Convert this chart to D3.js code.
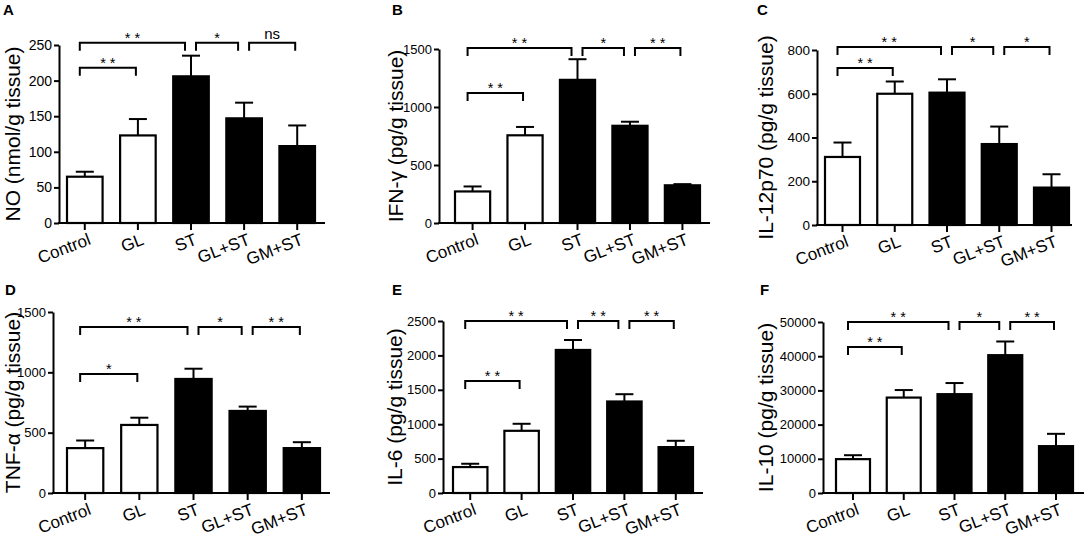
<!DOCTYPE html>
<html>
<head>
<meta charset="utf-8">
<script src="https://cdn.jsdelivr.net/npm/d3@7"></script>
<style>
  body { margin: 0; background: #fff; }
  svg { display: block; font-family: Arial, "Liberation Sans", Helvetica, sans-serif; }
</style>
</head>
<body>
<svg id="chart" width="1084" height="539"></svg>
<script>
// ---- data ----------------------------------------------------------------
var categories = ["Control", "GL", "ST", "GL+ST", "GM+ST"];
var filled     = [false, false, true, true, true];

// mean and upper SEM per panel
var noMean    = [65, 123, 206, 147, 108];
var noSem     = [7, 23, 29, 22, 29];
var ifnMean   = [272, 756, 1234, 838, 325];
var ifnSem    = [43, 72, 178, 35, 10];
var il12Mean  = [311, 600, 605, 370, 171];
var il12Sem   = [66, 56, 61, 80, 61];
var tnfMean   = [372, 564, 945, 680, 372];
var tnfSem    = [63, 60, 85, 36, 49];
var il6Mean   = [377, 904, 2079, 1330, 667];
var il6Sem    = [48, 102, 145, 106, 92];
var il10Mean  = [9900, 27900, 28900, 40300, 13700];
var il10Sem   = [1150, 2200, 3250, 4000, 3600];

// y tick labels
var noTicks   = [0, 50, 100, 150, 200, 250];
var ifnTicks  = [0, 500, 1000, 1500];
var il12Ticks = [0, 200, 400, 600, 800];
var tnfTicks  = [0, 500, 1000, 1500];
var il6Ticks  = [0, 500, 1000, 1500, 2000, 2500];
var il10Ticks = [0, 10000, 20000, 30000, 40000, 50000];

// significance brackets: [from, to, level, text]
var noSig   = [[0, 2, 253, "**"], [2, 3, 253, "*"], [3, 4, 253, "ns"], [0, 1, 218, "**"]];
var ifnSig  = [[0, 2, 1509, "**"], [2, 3, 1509, "*"], [3, 4, 1509, "**"], [0, 1, 1121, "**"]];
var il12Sig = [[0, 2, 814, "**"], [2, 3, 814, "*"], [3, 4, 814, "*"], [0, 1, 718, "**"]];
var tnfSig  = [[0, 2, 1376, "**"], [2, 3, 1376, "*"], [3, 4, 1376, "**"], [0, 1, 986, "*"]];
var il6Sig  = [[0, 2, 2500, "**"], [2, 3, 2500, "**"], [3, 4, 2500, "**"], [0, 1, 1628, "**"]];
var il10Sig = [[0, 2, 50000, "**"], [2, 3, 50000, "*"], [3, 4, 50000, "**"], [0, 1, 42700, "**"]];

// ---- layout --------------------------------------------------------------
var panels = [
    { letter: "A", lx: 3,   ly: 15,  title: "NO (nmol/g tissue)",     mean: noMean,   sem: noSem,   ticks: noTicks,   sig: noSig,
      ax: 59,  axEnd: 325,  top: 45,  bottom: 223, barL: 67,  barR: 315,  labX: 20,  tickFont: 14 },
    { letter: "B", lx: 392, ly: 15,  title: "IFN-\u03b3 (pg/g tissue)", mean: ifnMean,  sem: ifnSem,  ticks: ifnTicks,  sig: ifnSig,
      ax: 439, axEnd: 710,  top: 49,  bottom: 223, barL: 455, barR: 700,  labX: 403, tickFont: 13 },
    { letter: "C", lx: 757, ly: 15,  title: "IL-12p70 (pg/g tissue)", mean: il12Mean, sem: il12Sem, ticks: il12Ticks, sig: il12Sig,
      ax: 817, axEnd: 1072, top: 50,  bottom: 225, barL: 825, barR: 1069, labX: 773, tickFont: 13.5 },
    { letter: "D", lx: 5,   ly: 295, title: "TNF-\u03b1 (pg/g tissue)", mean: tnfMean,  sem: tnfSem,  ticks: tnfTicks,  sig: tnfSig,
      ax: 53,  axEnd: 330,  top: 312, bottom: 493, barL: 67,  barR: 320,  labX: 20,  tickFont: 13 },
    { letter: "E", lx: 392, ly: 295, title: "IL-6 (pg/g tissue)",     mean: il6Mean,  sem: il6Sem,  ticks: il6Ticks,  sig: il6Sig,
      ax: 443, axEnd: 703,  top: 321, bottom: 493, barL: 453, barR: 693,  labX: 402, tickFont: 13 },
    { letter: "F", lx: 760, ly: 295, title: "IL-10 (pg/g tissue)",    mean: il10Mean, sem: il10Sem, ticks: il10Ticks, sig: il10Sig,
      ax: 823, axEnd: 1084, top: 322, bottom: 493, barL: 836, barR: 1073, labX: 773, tickFont: 13 }
];

var svg = d3.select("#chart");

function drawPanel (p)
{
    var g = svg.append("g");

    var x = d3.scaleBand()
        .domain(categories)
        .range([p.barL, p.barR])
        .paddingInner(0.33)
        .paddingOuter(0);
    var y = d3.scaleLinear()
        .domain([0, d3.max(p.ticks)])
        .range([p.bottom, p.top]);
    var cx = function(i) { return x(categories[i]) + x.bandwidth() / 2; };

    // bars
    g.selectAll("rect.bar")
        .data(categories)
        .join("rect")
        .attr("class", "bar")
        .attr("x", function(d) { return x(d); })
        .attr("width", x.bandwidth())
        .attr("y", function(d, i) { return y(p.mean[i]); })
        .attr("height", function(d, i) { return p.bottom - y(p.mean[i]); })
        .attr("fill", function(d, i) { return filled[i] ? "#000" : "#fff"; })
        .attr("stroke", "#000")
        .attr("stroke-width", 2.2);

    // error bars (upper only)
    var eb = g.selectAll("g.err")
        .data(categories)
        .join("g")
        .attr("class", "err")
        .attr("stroke", "#000")
        .attr("stroke-width", 2);
    eb.append("line")
        .attr("x1", function(d, i) { return cx(i); })
        .attr("x2", function(d, i) { return cx(i); })
        .attr("y1", function(d, i) { return y(p.mean[i]); })
        .attr("y2", function(d, i) { return y(p.mean[i] + p.sem[i]); });
    eb.append("line")
        .attr("x1", function(d, i) { return cx(i) - 9; })
        .attr("x2", function(d, i) { return cx(i) + 9; })
        .attr("y1", function(d, i) { return y(p.mean[i] + p.sem[i]); })
        .attr("y2", function(d, i) { return y(p.mean[i] + p.sem[i]); });

    // y axis
    var yAxis = g.append("g")
        .attr("transform", "translate(" + p.ax + ",0)")
        .call(d3.axisLeft(y).tickValues(p.ticks).tickFormat(d3.format("d"))
            .tickSize(5).tickSizeOuter(0).tickPadding(2));
    yAxis.selectAll("path, line").attr("stroke", "#000").attr("stroke-width", 2);
    yAxis.selectAll("text").attr("font-size", p.tickFont).attr("fill", "#000")
        .style("font-family", "Arial, 'Liberation Sans', sans-serif");

    // x axis
    var xAxis = g.append("g")
        .attr("transform", "translate(0," + p.bottom + ")")
        .call(d3.axisBottom(x).tickSize(7).tickSizeOuter(0));
    xAxis.select(".domain").remove();
    xAxis.append("line")
        .attr("x1", p.ax - 1).attr("x2", p.axEnd)
        .attr("y1", 0).attr("y2", 0);
    xAxis.selectAll("line").attr("stroke", "#000").attr("stroke-width", 2);
    xAxis.selectAll("text")
        .attr("x", 0).attr("y", 0).attr("dy", null)
        .attr("text-anchor", "end")
        .attr("transform", "translate(7,21) rotate(-21)")
        .attr("font-size", 17).attr("fill", "#000")
        .style("font-family", "Arial, 'Liberation Sans', sans-serif");

    // y title
    g.append("text")
        .attr("transform", "translate(" + p.labX + "," + ((p.top + p.bottom) / 2) + ") rotate(-90)")
        .attr("text-anchor", "middle")
        .attr("font-size", 21)
        .text(p.title);

    // panel letter
    g.append("text")
        .attr("x", p.lx).attr("y", p.ly)
        .attr("font-size", 15).attr("font-weight", "bold")
        .text(p.letter);

    // significance brackets
    p.sig.forEach(function(s) {
        var a = s[0], b = s[1], lvl = s[2];
        var aShared = p.sig.some(function(o) { return o !== s && o[2] === lvl && o[1] === a; });
        var bShared = p.sig.some(function(o) { return o !== s && o[2] === lvl && o[0] === b; });
        var x1 = cx(a) + (aShared ? 5 : -5);
        var x2 = cx(b) - (bShared ? 6 : 2);
        var yy = y(lvl);
        g.append("path")
            .attr("d", "M" + x1 + "," + (yy + 8) + "V" + yy + "H" + x2 + "V" + (yy + 8))
            .attr("fill", "none")
            .attr("stroke", "#000")
            .attr("stroke-width", 2);
        var isStar = s[3] !== "ns";
        g.append("text")
            .attr("x", (x1 + x2) / 2)
            .attr("y", isStar ? yy : yy - 4)
            .attr("text-anchor", "middle")
            .attr("font-size", isStar ? 14.5 : 15)
            .text(isStar ? s[3].split("").join(" ") : s[3]);
    });
}

panels.forEach(drawPanel);
</script>
</body>
</html>
